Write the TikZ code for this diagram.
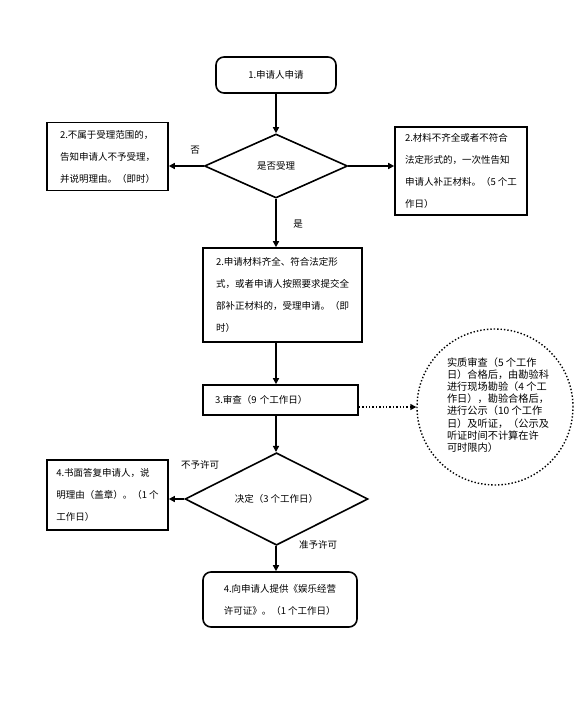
\documentclass[tikz,border=0pt]{standalone}
\usepackage{fontspec}
\newfontfamily\cjk{Noto Sans CJK SC}
\usetikzlibrary{shapes.geometric,arrows.meta}
\begin{document}
\begin{tikzpicture}[x=1pt,y=-1pt,
  txt/.style={font=\cjk\fontsize{9.5}{22}\selectfont},
  box/.style={txt,draw,line width=1.6pt,align=left,inner sep=0pt},
  rbox/.style={box,rounded corners=8pt},
  dia/.style={txt,draw,diamond,line width=1.6pt,inner sep=0pt},
  conn/.style={line width=1.4pt,-{Triangle[length=6pt,width=6pt]}},
  dotconn/.style={line width=1.4pt,dotted,-{Triangle[length=6pt,width=6pt]}},
  lbl/.style={txt}]
\useasboundingbox (0,0) rectangle (577,718);
\fill[white] (0,0) rectangle (577,718);

\node[rbox,minimum width=120pt,minimum height=36pt,align=center] (n1) at (276,75) {1.申请人申请};
\node[dia,minimum width=143pt,minimum height=64pt] (d1) at (276,166) {是否受理};
\node[box,minimum width=121pt,minimum height=68pt] (nL) at (107.5,156.5) {2.不属于受理范围的，\\告知申请人不予受理，\\并说明理由。（即时）};
\node[box,minimum width=132pt,minimum height=88pt] (nR) at (461,171) {2.材料不齐全或者不符合\\法定形式的，一次性告知\\申请人补正材料。（5 个工\\作日）};
\node[box,minimum width=159pt,minimum height=94pt] (n2) at (282.5,295) {2.申请材料齐全、符合法定形\\式，或者申请人按照要求提交全\\部补正材料的，受理申请。（即\\时）};
\node[box,minimum width=155pt,minimum height=30pt,text width=131pt] (n3) at (280.5,400) {3.审查（9 个工作日）};
\node[draw,circle,dotted,line width=1.4pt,minimum size=156pt,inner sep=0pt] (circ) at (495,407) {};
\node[txt,font=\cjk\fontsize{10.2}{12.2}\selectfont,align=left,inner sep=0pt] (ctext) at (498,405) {实质审查（5 个工作\\日）合格后，由勘验科\\进行现场勘验（4 个工\\作日），勘验合格后，\\进行公示（10 个工作\\日）及听证，（公示及\\听证时间不计算在许\\可时限内）};
\node[dia,minimum width=183pt,minimum height=62pt] (d2) at (276.5,499) {决定（3 个工作日）};
\node[box,minimum width=121pt,minimum height=70pt] (nL2) at (107.5,495) {4.书面答复申请人，说\\明理由（盖章）。（1 个\\工作日）};
\node[rbox,minimum width=154pt,minimum height=55pt] (n4) at (280,599.5) {4.向申请人提供《娱乐经营\\许可证》。（1 个工作日）};

\node[lbl] (l1) at (195,150) {否};
\node[lbl] (l2) at (298,224) {是};
\node[lbl] (l3) at (200,465) {不予许可};
\node[lbl] (l4) at (318,545) {准予许可};

\draw[conn] (n1.south) -- (d1.north);
\draw[conn] (d1.west) -- (d1.west -| nL.east);
\draw[conn] (d1.east) -- (d1.east -| nR.west);
\draw[conn] (d1.south) -- (d1.south |- n2.north);
\draw[conn] (n2.south -| n1.south) -- (n3.north -| n1.south);
\draw[conn] (n3.south -| n1.south) -- (d2.north -| n1.south);
\draw[dotconn] (n3.east |- circ.west) -- (circ.west);
\draw[conn] (d2.west) -- (d2.west -| nL2.east);
\draw[conn] (d2.south -| n1.south) -- (n4.north -| n1.south);
\end{tikzpicture}
\end{document}
